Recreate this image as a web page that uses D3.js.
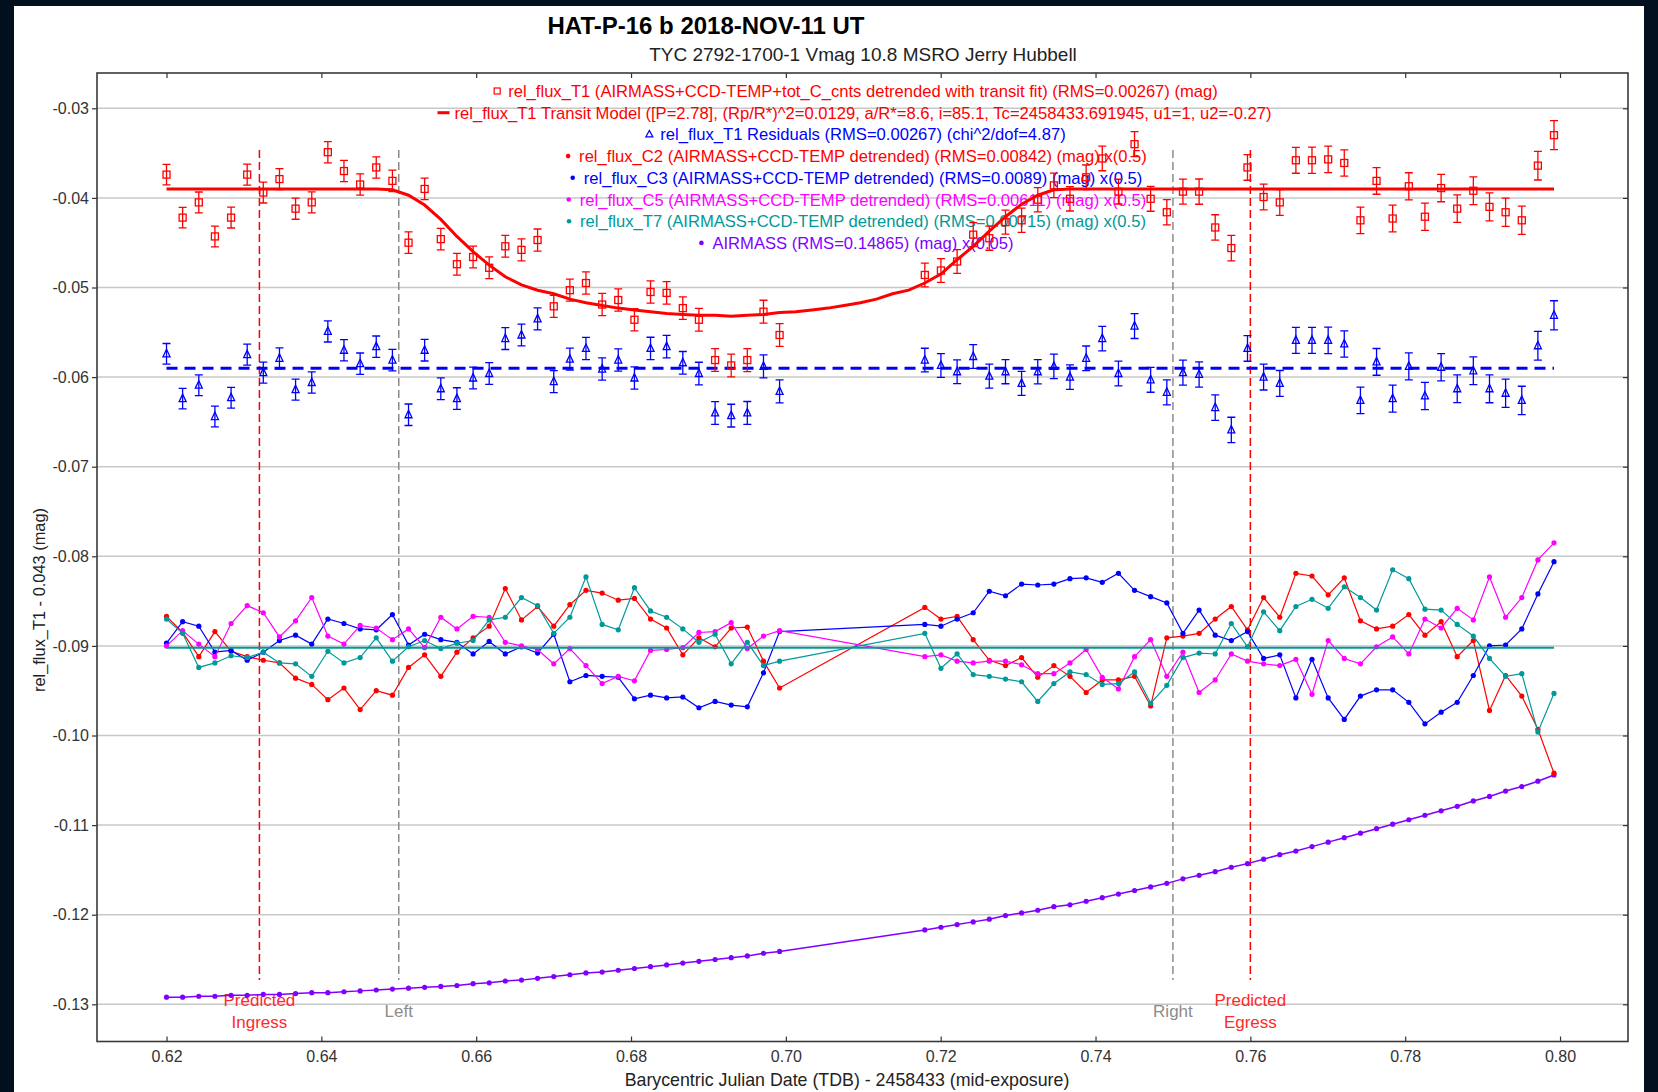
<!DOCTYPE html>
<html>
<head>
<meta charset="utf-8">
<script src="https://d3js.org/d3.v7.min.js"></script>
<style>
  body { margin: 0; background: #020f1f; }
  svg text { font-family: "Liberation Sans", Arial, sans-serif; }
</style>
</head>
<body>
<div id="my_dataviz"></div>
<script>
// ---- data ----
// BJD_TDB - 2458433, mid-exposure (gap 0.699 - 0.718)
const times = [
  0.62000,0.62208,0.62417,0.62625,0.62834,0.63042,0.63250,0.63459,0.63667,0.63876,
  0.64084,0.64292,0.64501,0.64709,0.64918,0.65126,0.65334,0.65543,0.65751,0.65960,
  0.66168,0.66376,0.66585,0.66793,0.67002,0.67210,0.67418,0.67627,0.67835,0.68044,
  0.68252,0.68460,0.68669,0.68877,0.69086,0.69294,0.69502,0.69711,0.69919,
  0.71795,0.72003,0.72212,0.72420,0.72628,0.72837,0.73045,0.73254,0.73462,0.73670,
  0.73879,0.74087,0.74296,0.74504,0.74712,0.74921,0.75129,0.75338,0.75546,0.75754,
  0.75963,0.76171,0.76380,0.76588,0.76796,0.77005,0.77213,0.77422,0.77630,0.77838,
  0.78047,0.78255,0.78464,0.78672,0.78880,0.79089,0.79297,0.79506,0.79714,0.79922
];
// rel_flux_T1 detrended (mag)
const t1 = [
  -0.0374,-0.0422,-0.0405,-0.0443,-0.0422,-0.0374,-0.0394,-0.0379,-0.0412,-0.0405,
  -0.0349,-0.0370,-0.0385,-0.0366,-0.0381,-0.0450,-0.0390,-0.0446,-0.0474,-0.0466,
  -0.0478,-0.0454,-0.0458,-0.0447,-0.0521,-0.0503,-0.0495,-0.0519,-0.0514,-0.0536,
  -0.0505,-0.0506,-0.0523,-0.0536,-0.0581,-0.0587,-0.0581,-0.0527,-0.0553,
  -0.0486,-0.0481,-0.0471,-0.0441,-0.0445,-0.0427,-0.0425,-0.0402,-0.0386,-0.0401,
  -0.0377,-0.0356,-0.0393,-0.0340,-0.0401,-0.0416,-0.0393,-0.0393,-0.0433,-0.0456,
  -0.0366,-0.0399,-0.0405,-0.0358,-0.0358,-0.0357,-0.0361,-0.0425,-0.0381,-0.0423,
  -0.0387,-0.0421,-0.0389,-0.0412,-0.0392,-0.0410,-0.0416,-0.0425,-0.0364,-0.0330
];
const t1Err = [
  0.00115,0.00115,0.00116,0.00116,0.00116,0.00117,0.00117,0.00117,0.00118,0.00118,
  0.00118,0.00119,0.00119,0.00119,0.00120,0.00120,0.00120,0.00121,0.00121,0.00121,
  0.00122,0.00122,0.00122,0.00123,0.00123,0.00123,0.00124,0.00124,0.00124,0.00125,
  0.00125,0.00125,0.00126,0.00126,0.00127,0.00127,0.00128,0.00128,0.00128,
  0.00132,0.00132,0.00133,0.00133,0.00134,0.00134,0.00135,0.00135,0.00136,0.00136,
  0.00137,0.00137,0.00138,0.00139,0.00139,0.00140,0.00140,0.00141,0.00142,0.00142,
  0.00143,0.00144,0.00144,0.00145,0.00146,0.00147,0.00147,0.00148,0.00149,0.00150,
  0.00151,0.00152,0.00153,0.00154,0.00155,0.00156,0.00157,0.00158,0.00160,0.00162
];
// residuals, plotted around -0.059
const resid = [
  -0.0574,-0.0624,-0.0609,-0.0644,-0.0623,-0.0575,-0.0595,-0.0579,-0.0614,-0.0606,
  -0.0549,-0.0570,-0.0585,-0.0566,-0.0581,-0.0642,-0.0570,-0.0613,-0.0624,-0.0601,
  -0.0596,-0.0557,-0.0553,-0.0535,-0.0605,-0.0580,-0.0568,-0.0591,-0.0581,-0.0601,
  -0.0568,-0.0566,-0.0584,-0.0596,-0.0640,-0.0643,-0.0640,-0.0588,-0.0616,
  -0.0581,-0.0587,-0.0594,-0.0577,-0.0599,-0.0594,-0.0607,-0.0594,-0.0588,-0.0600,
  -0.0579,-0.0557,-0.0596,-0.0543,-0.0603,-0.0617,-0.0595,-0.0597,-0.0634,-0.0659,
  -0.0568,-0.0600,-0.0607,-0.0559,-0.0559,-0.0559,-0.0563,-0.0626,-0.0583,-0.0624,
  -0.0588,-0.0621,-0.0589,-0.0613,-0.0593,-0.0613,-0.0618,-0.0626,-0.0565,-0.0531
];
const residBase = -0.059;
// transit model, drawn on the full 3-minute grid
const modelTimes = [
  0.62000,0.62208,0.62417,0.62625,0.62834,0.63042,0.63250,0.63459,0.63667,0.63876,
  0.64084,0.64292,0.64501,0.64709,0.64918,0.65126,0.65334,0.65543,0.65751,0.65960,
  0.66168,0.66376,0.66585,0.66793,0.67002,0.67210,0.67418,0.67627,0.67835,0.68044,
  0.68252,0.68460,0.68669,0.68877,0.69086,0.69294,0.69502,0.69711,0.69919,0.70128,
  0.70336,0.70545,0.70753,0.70962,0.71170,0.71378,0.71587,0.71795,0.72003,0.72212,
  0.72420,0.72628,0.72837,0.73045,0.73254,0.73462,0.73670,0.73879,0.74087,0.74296,
  0.74504,0.74712,0.74921,0.75129,0.75338,0.75546,0.75754,0.75963,0.76171,0.76380,
  0.76588,0.76796,0.77005,0.77213,0.77422,0.77630,0.77838,0.78047,0.78255,0.78464,
  0.78672,0.78880,0.79089,0.79297,0.79506,0.79714,0.79922
];
const modelMag = [
  -0.0390,-0.0390,-0.0390,-0.0390,-0.0390,-0.0390,-0.0390,-0.0390,-0.0390,-0.0390,
  -0.0390,-0.0390,-0.0390,-0.0390,-0.0391,-0.0397,-0.0408,-0.0424,-0.0443,-0.0460,
  -0.0475,-0.0488,-0.0497,-0.0503,-0.0507,-0.0513,-0.0517,-0.0520,-0.0523,-0.0525,
  -0.0527,-0.0529,-0.0530,-0.0531,-0.0531,-0.0532,-0.0531,-0.0530,-0.0528,-0.0527,
  -0.0525,-0.0523,-0.0520,-0.0517,-0.0513,-0.0507,-0.0503,-0.0495,-0.0485,-0.0469,
  -0.0454,-0.0437,-0.0421,-0.0407,-0.0397,-0.0391,-0.0390,-0.0390,-0.0390,-0.0390,
  -0.0390,-0.0390,-0.0390,-0.0390,-0.0390,-0.0390,-0.0390,-0.0390,-0.0390,-0.0390,
  -0.0390,-0.0390,-0.0390,-0.0390,-0.0390,-0.0390,-0.0390,-0.0390,-0.0390,-0.0390,
  -0.0390,-0.0390,-0.0390,-0.0390,-0.0390,-0.0390,-0.0390
];
// comparison stars, x(0.5), plotted around -0.090
const c2 = [
  -0.0867,-0.0885,-0.0912,-0.0884,-0.0906,-0.0912,-0.0916,-0.0919,-0.0936,-0.0943,
  -0.0960,-0.0947,-0.0971,-0.0950,-0.0955,-0.0924,-0.0910,-0.0934,-0.0907,-0.0891,
  -0.0878,-0.0836,-0.0871,-0.0856,-0.0878,-0.0854,-0.0838,-0.0841,-0.0849,-0.0847,
  -0.0870,-0.0880,-0.0910,-0.0891,-0.0901,-0.0880,-0.0879,-0.0917,-0.0947,
  -0.0857,-0.0870,-0.0867,-0.0893,-0.0916,-0.0922,-0.0913,-0.0935,-0.0922,-0.0934,
  -0.0952,-0.0938,-0.0938,-0.0934,-0.0967,-0.0891,-0.0889,-0.0886,-0.0870,-0.0856,
  -0.0882,-0.0846,-0.0868,-0.0819,-0.0822,-0.0843,-0.0824,-0.0872,-0.0881,-0.0878,
  -0.0865,-0.0888,-0.0873,-0.0912,-0.0894,-0.0972,-0.0933,-0.0956,-0.0993,-0.1042
];
const c3 = [
  -0.0897,-0.0873,-0.0878,-0.0907,-0.0905,-0.0916,-0.0907,-0.0894,-0.0888,-0.0898,
  -0.0870,-0.0875,-0.0881,-0.0882,-0.0865,-0.0899,-0.0887,-0.0893,-0.0896,-0.0909,
  -0.0895,-0.0909,-0.0901,-0.0908,-0.0887,-0.0940,-0.0933,-0.0934,-0.0935,-0.0959,
  -0.0955,-0.0958,-0.0957,-0.0969,-0.0962,-0.0966,-0.0968,-0.0930,-0.0884,
  -0.0876,-0.0878,-0.0870,-0.0863,-0.0839,-0.0844,-0.0831,-0.0832,-0.0831,-0.0825,
  -0.0824,-0.0829,-0.0819,-0.0838,-0.0845,-0.0852,-0.0886,-0.0860,-0.0888,-0.0894,
  -0.0884,-0.0914,-0.0910,-0.0958,-0.0915,-0.0958,-0.0982,-0.0956,-0.0949,-0.0949,
  -0.0963,-0.0987,-0.0974,-0.0963,-0.0933,-0.0900,-0.0899,-0.0881,-0.0842,-0.0806
];
const c5 = [
  -0.0900,-0.0883,-0.0898,-0.0912,-0.0875,-0.0855,-0.0863,-0.0890,-0.0872,-0.0846,
  -0.0889,-0.0898,-0.0877,-0.0880,-0.0893,-0.0881,-0.0902,-0.0868,-0.0881,-0.0867,
  -0.0868,-0.0896,-0.0900,-0.0904,-0.0920,-0.0903,-0.0922,-0.0942,-0.0934,-0.0939,
  -0.0905,-0.0904,-0.0902,-0.0885,-0.0884,-0.0874,-0.0903,-0.0889,-0.0883,
  -0.0912,-0.0910,-0.0917,-0.0919,-0.0917,-0.0917,-0.0921,-0.0931,-0.0931,-0.0919,
  -0.0904,-0.0935,-0.0948,-0.0912,-0.0893,-0.0934,-0.0907,-0.0952,-0.0938,-0.0909,
  -0.0917,-0.0920,-0.0922,-0.0915,-0.0954,-0.0894,-0.0914,-0.0920,-0.0901,-0.0890,
  -0.0909,-0.0870,-0.0880,-0.0858,-0.0871,-0.0823,-0.0868,-0.0846,-0.0804,-0.0785
];
const t7 = [
  -0.0870,-0.0886,-0.0924,-0.0919,-0.0911,-0.0913,-0.0907,-0.0919,-0.0920,-0.0934,
  -0.0906,-0.0919,-0.0913,-0.0891,-0.0917,-0.0901,-0.0894,-0.0903,-0.0897,-0.0894,
  -0.0871,-0.0868,-0.0846,-0.0855,-0.0886,-0.0868,-0.0823,-0.0876,-0.0882,-0.0835,
  -0.0861,-0.0868,-0.0881,-0.0896,-0.0887,-0.0920,-0.0896,-0.0922,-0.0917,
  -0.0886,-0.0925,-0.0909,-0.0932,-0.0934,-0.0937,-0.0940,-0.0962,-0.0942,-0.0929,
  -0.0932,-0.0943,-0.0942,-0.0929,-0.0964,-0.0944,-0.0913,-0.0908,-0.0909,-0.0875,
  -0.0901,-0.0862,-0.0883,-0.0856,-0.0848,-0.0858,-0.0834,-0.0846,-0.0860,-0.0815,
  -0.0825,-0.0859,-0.0860,-0.0876,-0.0889,-0.0914,-0.0934,-0.0931,-0.0996,-0.0953
];
const compBase = -0.0902;
// airmass x(0.05)
const airmass = [
  -0.1292,-0.1292,-0.1291,-0.1291,-0.1290,-0.1290,-0.1289,-0.1289,-0.1288,-0.1287,
  -0.1287,-0.1286,-0.1285,-0.1284,-0.1283,-0.1282,-0.1281,-0.1280,-0.1279,-0.1277,
  -0.1276,-0.1274,-0.1273,-0.1271,-0.1269,-0.1267,-0.1265,-0.1264,-0.1262,-0.1260,
  -0.1258,-0.1256,-0.1254,-0.1252,-0.1250,-0.1248,-0.1246,-0.1243,-0.1241,
  -0.1217,-0.1214,-0.1211,-0.1208,-0.1205,-0.1201,-0.1198,-0.1195,-0.1191,-0.1189,
  -0.1185,-0.1181,-0.1177,-0.1173,-0.1169,-0.1165,-0.1160,-0.1156,-0.1152,-0.1147,
  -0.1143,-0.1138,-0.1133,-0.1129,-0.1124,-0.1119,-0.1114,-0.1109,-0.1104,-0.1099,
  -0.1094,-0.1089,-0.1084,-0.1079,-0.1073,-0.1068,-0.1062,-0.1057,-0.1051,-0.1044
];
// vertical markers
const markerTimes = [0.632, 0.650, 0.750, 0.760];
const markerLabels = [["Predicted","Ingress"], ["Left"], ["Right"], ["Predicted","Egress"]];
const markerColors = ["#ff0000", "#8c8c8c", "#8c8c8c", "#ff0000"];

const xTicks = [0.62,0.64,0.66,0.68,0.70,0.72,0.74,0.76,0.78,0.80];
const yTicks = [-0.03,-0.04,-0.05,-0.06,-0.07,-0.08,-0.09,-0.10,-0.11,-0.12,-0.13];

const legendLines = [
  {sym:"square", color:"#ff0000", text:"rel_flux_T1 (AIRMASS+CCD-TEMP+tot_C_cnts detrended with transit fit) (RMS=0.00267) (mag)"},
  {sym:"dash", color:"#ff0000", text:"rel_flux_T1 Transit Model ([P=2.78], (Rp/R*)^2=0.0129, a/R*=8.6, i=85.1, Tc=2458433.691945, u1=1, u2=-0.27)"},
  {sym:"tri", color:"#0000ff", text:"rel_flux_T1 Residuals (RMS=0.00267) (chi^2/dof=4.87)"},
  {sym:"dot", color:"#ff0000", text:"rel_flux_C2 (AIRMASS+CCD-TEMP detrended) (RMS=0.00842) (mag) x(0.5)"},
  {sym:"dot", color:"#0000ff", text:"rel_flux_C3 (AIRMASS+CCD-TEMP detrended) (RMS=0.0089) (mag) x(0.5)"},
  {sym:"dot", color:"#ff00ff", text:"rel_flux_C5 (AIRMASS+CCD-TEMP detrended) (RMS=0.00611) (mag) x(0.5)"},
  {sym:"dot", color:"#009999", text:"rel_flux_T7 (AIRMASS+CCD-TEMP detrended) (RMS=0.00715) (mag) x(0.5)"},
  {sym:"dot", color:"#8000ff", text:"AIRMASS (RMS=0.14865) (mag) x(0.05)"}
];

// ---- layout ----
const W = 1658, H = 1092;
const plotL = 97, plotR = 1628, plotT = 73, plotB = 1041.5;

const svg = d3.select("#my_dataviz")
  .append("svg")
    .attr("width", W)
    .attr("height", H);

svg.append("rect")
  .attr("x", 14).attr("y", 6)
  .attr("width", 1630).attr("height", H - 6)
  .attr("fill", "#ffffff");

const x = d3.scaleLinear().domain([0.61102, 0.80878]).range([plotL, plotR]);
const y = d3.scaleLinear().domain([-0.02606, -0.13415]).range([plotT, plotB]);

// grid
svg.append("g").selectAll("line")
  .data(yTicks)
  .join("line")
    .attr("x1", plotL).attr("x2", plotR)
    .attr("y1", d => y(d)).attr("y2", d => y(d))
    .attr("stroke", "#c8c8c8")
    .attr("stroke-width", 1.5);

// axes
const axisStyle = g => {
  g.select(".domain").remove();
  g.selectAll(".tick line").attr("stroke", "#333").attr("stroke-width", 1.2);
  g.selectAll(".tick text").attr("fill", "#333").style("font-size", "16px");
};
svg.append("g")
  .attr("transform", `translate(${plotL},0)`)
  .call(d3.axisLeft(y).tickValues(yTicks).tickFormat(d => d.toFixed(2)).tickSize(5).tickPadding(3))
  .call(axisStyle);
svg.append("g")
  .attr("transform", `translate(${plotR},0)`)
  .call(d3.axisLeft(y).tickValues(yTicks).tickFormat("").tickSize(5))
  .call(axisStyle);
svg.append("g")
  .attr("transform", `translate(0,${plotB})`)
  .call(d3.axisBottom(x).tickValues(xTicks).tickFormat(d => d.toFixed(2)).tickSize(-5).tickPadding(9))
  .call(axisStyle);
svg.append("g")
  .attr("transform", `translate(0,${plotT})`)
  .call(d3.axisBottom(x).tickValues(xTicks).tickFormat("").tickSize(5))
  .call(axisStyle);

// frame
svg.append("rect")
  .attr("x", plotL).attr("y", plotT)
  .attr("width", plotR - plotL).attr("height", plotB - plotT)
  .attr("fill", "none")
  .attr("stroke", "#3a3a3a")
  .attr("stroke-width", 1.6);

// titles
svg.append("text")
  .attr("x", 706).attr("y", 34)
  .attr("text-anchor", "middle")
  .style("font-size", "24px").style("font-weight", "bold")
  .attr("fill", "#000")
  .text("HAT-P-16 b 2018-NOV-11 UT");
svg.append("text")
  .attr("x", 863).attr("y", 61)
  .attr("text-anchor", "middle")
  .style("font-size", "19px")
  .attr("fill", "#222")
  .text("TYC 2792-1700-1 Vmag 10.8 MSRO Jerry Hubbell");
svg.append("text")
  .attr("transform", "translate(45,600) rotate(-90)")
  .attr("text-anchor", "middle")
  .style("font-size", "16.4px")
  .attr("fill", "#222")
  .text("rel_flux_T1 - 0.043 (mag)");
svg.append("text")
  .attr("x", 847).attr("y", 1086)
  .attr("text-anchor", "middle")
  .style("font-size", "17.8px")
  .attr("fill", "#222")
  .text("Barycentric Julian Date (TDB) - 2458433 (mid-exposure)");

// legend
const legendCx = 856, legendY0 = 91, legendDy = 21.7;
legendLines.forEach((d, i) => {
  const cy = legendY0 + i * legendDy;
  const t = svg.append("text")
    .attr("x", legendCx + 7).attr("y", cy + 6)
    .attr("text-anchor", "middle")
    .style("font-size", "16.6px")
    .attr("fill", d.color)
    .text(d.text);
  const w = t.node().getComputedTextLength();
  const mx = legendCx + 7 - w / 2 - 11;
  if (d.sym === "square") {
    svg.append("rect").attr("x", mx - 3).attr("y", cy - 3).attr("width", 6).attr("height", 6)
      .attr("fill", "none").attr("stroke", d.color).attr("stroke-width", 1.2);
  } else if (d.sym === "dash") {
    svg.append("rect").attr("x", mx - 6).attr("y", cy - 1.5).attr("width", 12).attr("height", 3)
      .attr("fill", d.color);
  } else if (d.sym === "tri") {
    svg.append("path").attr("d", `M${mx},${cy - 4}L${mx + 3.5},${cy + 2.5}L${mx - 3.5},${cy + 2.5}Z`)
      .attr("fill", "none").attr("stroke", d.color).attr("stroke-width", 1.2);
  } else {
    svg.append("circle").attr("cx", mx).attr("cy", cy).attr("r", 2.3).attr("fill", d.color);
  }
});

// vertical markers
markerTimes.forEach((t, i) => {
  svg.append("line")
    .attr("x1", x(t)).attr("x2", x(t))
    .attr("y1", 150).attr("y2", 980)
    .attr("stroke", markerColors[i])
    .attr("stroke-width", 1.5)
    .attr("stroke-dasharray", "8,4");
  const lab = markerLabels[i];
  lab.forEach((s, j) => {
    svg.append("text")
      .attr("x", x(t))
      .attr("y", lab.length === 1 ? 1017 : 1006 + j * 22)
      .attr("text-anchor", "middle")
      .style("font-size", "17px")
      .attr("fill", markerColors[i] === "#ff0000" ? "#ff2a2a" : "#8c8c8c")
      .text(s);
  });
});

const line = d3.line().x(d => x(d[0])).y(d => y(d[1]));

// comparison stars & airmass
const dotSeries = [
  {vals: airmass, color: "#8000ff", w: 1.5},
  {vals: c2, color: "#ff0000", w: 1.2},
  {vals: c3, color: "#0000ff", w: 1.2},
  {vals: c5, color: "#ff00ff", w: 1.2},
  {vals: t7, color: "#009999", w: 1.2}
];
dotSeries.forEach(s => {
  const pts = d3.zip(times, s.vals);
  svg.append("path")
    .datum(pts)
    .attr("d", line)
    .attr("fill", "none")
    .attr("stroke", s.color)
    .attr("stroke-width", s.w);
  svg.append("g").selectAll("circle")
    .data(pts)
    .join("circle")
      .attr("cx", d => x(d[0]))
      .attr("cy", d => y(d[1]))
      .attr("r", 2.6)
      .attr("fill", s.color);
});
// comparison baseline
svg.append("line")
  .attr("x1", x(times[0])).attr("x2", x(times[times.length - 1]))
  .attr("y1", y(compBase)).attr("y2", y(compBase))
  .attr("stroke", "#009999").attr("stroke-width", 2);

// residual baseline
svg.append("line")
  .attr("x1", x(times[0])).attr("x2", x(times[times.length - 1]))
  .attr("y1", y(residBase)).attr("y2", y(residBase))
  .attr("stroke", "#0000ff").attr("stroke-width", 3)
  .attr("stroke-dasharray", "11,7");

// transit model
svg.append("path")
  .datum(d3.zip(modelTimes, modelMag))
  .attr("d", line)
  .attr("fill", "none")
  .attr("stroke", "#ff0000")
  .attr("stroke-width", 3);

// error bars + symbols
function errorBars(vals, color) {
  const pts = d3.zip(times, vals, t1Err);
  const g = svg.append("g").attr("stroke", color).attr("stroke-width", 1.3).attr("fill", "none");
  g.selectAll(".eb").data(pts).join("path")
    .attr("d", d => {
      const cx = x(d[0]), y1 = y(d[1] + d[2]), y2 = y(d[1] - d[2]);
      return `M${cx - 4},${y1}H${cx + 4}M${cx},${y1}V${y2}M${cx - 4},${y2}H${cx + 4}`;
    });
  return {g, pts};
}
const r1 = errorBars(t1, "#ff0000");
r1.g.selectAll("rect").data(r1.pts).join("rect")
  .attr("x", d => x(d[0]) - 3.5).attr("y", d => y(d[1]) - 3.5)
  .attr("width", 7).attr("height", 7)
  .attr("fill", "none");
const r2 = errorBars(resid, "#0000ff");
r2.g.selectAll(".tri").data(r2.pts).join("path")
  .attr("d", d => {
    const cx = x(d[0]), cy = y(d[1]);
    return `M${cx},${cy - 4.5}L${cx + 3.5},${cy + 3}L${cx - 3.5},${cy + 3}Z`;
  });
</script>
</body>
</html>
